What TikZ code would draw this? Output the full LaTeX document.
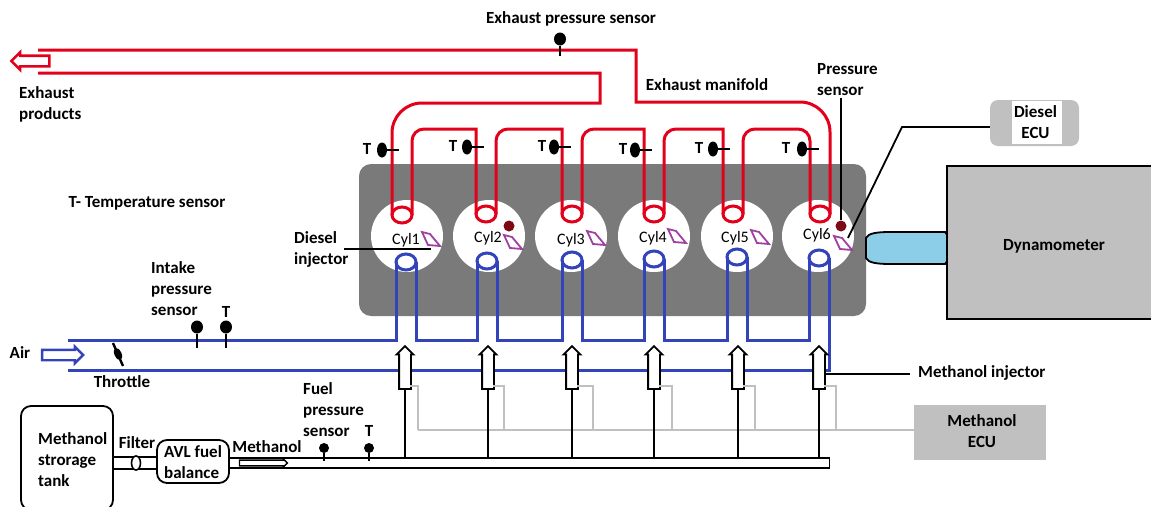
\documentclass[tikz,border=0pt]{standalone}
\usepackage{fontspec}
\setmainfont{Carlito}
\usetikzlibrary{shapes.geometric, shapes.arrows}
\definecolor{exhred}{HTML}{E2001A}
\definecolor{intblue}{HTML}{3344BB}
\definecolor{blockgray}{HTML}{7A7A7A}
\definecolor{ecugray}{HTML}{C0C0C0}
\definecolor{dotred}{HTML}{7B0A14}
\definecolor{injpurple}{HTML}{A040A0}
\definecolor{couplerblue}{HTML}{8CCDE8}
\tikzset{
    lab/.style={font=\fontsize{17}{21}\selectfont\bfseries, align=left, inner sep=0pt},
    cyllab/.style={font=\fontsize{16}{18}\selectfont, inner sep=0pt},
    wire/.style={line width=1.8pt},
    stem/.style={line width=2.4pt},
    exh/.style={line width=3pt, exhred},
    intk/.style={line width=3pt, intblue},
    ecuwire/.style={line width=1.8pt, ecugray},
    port/.style={ellipse, draw, fill=white, line width=3pt, minimum width=20pt, minimum height=16pt, inner sep=0pt, outer sep=0pt},
    sensor/.style={ellipse, fill=black, minimum width=12pt, minimum height=13pt, inner sep=0pt},
    tsensor/.style={ellipse, fill=black, minimum width=10pt, minimum height=15pt, inner sep=0pt},
    cylbox/.style={circle, fill=white, minimum size=72pt, inner sep=0pt},
    prdot/.style={circle, fill=dotred, minimum size=11pt, inner sep=0pt},
    injarrow/.style={single arrow, draw, fill=white, line width=1.8pt, shape border rotate=90, minimum height=43pt, single arrow head extend=2.5pt, inner sep=5pt, outer sep=0pt},
    roundbox/.style={draw, line width=1.8pt, rounded corners=10pt, fill=white, inner sep=0pt}
}
\begin{document}
\begin{tikzpicture}[x=1pt, y=-1pt]
    \useasboundingbox (0,0) rectangle (1151,506);

    % Engine block and cylinders
    \node[fill=blockgray, rounded corners=12pt, minimum width=507pt, minimum height=152pt, inner sep=0pt] (block) at (612.5,240) {};
    \foreach \i/\x in {1/407, 2/489, 3/571, 4/654, 5/737, 6/818}
        \node[cylbox] (cyl\i) at (\x,236) {};

    % Exhaust side
    \coordinate (exhtop) at (0,129);
    \coordinate (manupper) at (38,50);
    \coordinate (manlower) at (38,73);
    \foreach \i/\x/\y in {1/402/215, 2/486/214, 3/572/214, 4/654/214, 5/733/214, 6/820/214}
        \node[port, draw=exhred] (ex\i) at (\x,\y) {};
    \foreach \a/\b in {1/2, 2/3, 3/4, 4/5}
        \draw[exh, rounded corners=12pt] (ex\a.east) -- (ex\a.east |- exhtop) [sharp corners] -- (ex\b.west |- exhtop) -- (ex\b.west);
    \draw[exh, rounded corners=12pt] (ex5.east) -- (ex5.east |- exhtop) -- (ex6.west |- exhtop) -- (ex6.west);
    \draw[exh, rounded corners=30pt] (ex1.west) -- (ex1.west |- 0,103) [sharp corners] -- (600,103) -- (600,73) -- (manlower);
    \draw[exh, rounded corners=30pt] (ex6.east) -- (ex6.east |- 0,102) [sharp corners] -- (636,102) -- (636,50) -- (manupper);
    \node[single arrow, draw=exhred, fill=white, line width=2.6pt, shape border rotate=180, minimum height=38pt, single arrow head extend=3.5pt, inner sep=4pt] (exharrow) at (33,61) {};
    \node[lab, anchor=west] (exhproducts) at (19,104) {Exhaust\\products};

    % Intake side
    \coordinate (airupper) at (68,340);
    \coordinate (airlower) at (68,370);
    \foreach \i/\x/\y in {1/406/262, 2/487/261, 3/572/260, 4/654/259, 5/737/257, 6/819/258}
        \node[port, draw=intblue] (in\i) at (\x,\y) {};
    \foreach \a/\b in {1/2, 2/3, 3/4, 4/5, 5/6}
        \draw[intk] (in\a.east) -- (in\a.east |- airupper) -- (in\b.west |- airupper) -- (in\b.west);
    \draw[intk] (airupper) -- (in1.west |- airupper) -- (in1.west);
    \draw[intk] (airlower) -- (in6.east |- airlower) -- (in6.east);
    \node[lab] (airlab) at (20,353) {Air};
    \node[single arrow, draw=intblue, fill=white, line width=2.4pt, minimum height=41pt, single arrow head extend=3pt, inner sep=4pt] (airarrow) at (60,355) {};

    % Cylinder labels, injectors and pressure dots
    \foreach \i/\x/\y in {1/406/240, 2/488/238, 3/571/240, 4/653/238, 5/735/238, 6/817/235}
        \node[cyllab] (cyl\i lab) at (\x,\y) {Cyl\i};
    \foreach \x/\y in {431/239, 513/242, 596/238, 677/236, 760/237, 843/243}
        \draw[injpurple, line width=1.8pt, shift={(\x,\y)}] (-9,-7) -- (-1,-5) -- (9,7) -- (-3,6) -- cycle;

    % Temperature sensors on the runners
    \foreach \i/\x/\y/\tx in {1/382/150/367, 2/467/147/453, 3/554/147/542, 4/635/150/623, 5/713/149/699, 6/802/149/786} {
        \node[tsensor] (ts\i) at (\x,\y) {};
        \coordinate (tsend\i) at (\x+17,\y);
        \draw[stem] (ts\i) -- (tsend\i);
        \node[lab] (tslab\i) at (\tx,\y-1) {T};
    }

    % Sensors, manifold and labels at the top
    \node[sensor] (exhpsens) at (560,39) {};
    \coordinate (exhpend) at (560,56);
    \draw[stem] (exhpsens) -- (exhpend);
    \node[lab] (exhplab) at (571,19) {Exhaust pressure sensor};
    \node[lab] (manlab) at (707,85) {Exhaust manifold};
    \node[lab] (tlegend) at (147,203) {T- Temperature sensor};
    \node[prdot] (prdot2) at (509,226) {};
    \node[prdot] (prdot6) at (841,226) {};
    \node[lab, anchor=west] (prlab) at (817,80) {Pressure\\sensor};
    \coordinate (prtop) at (841,98);
    \draw[wire] (prtop) -- (prdot6);

    % Diesel injector callout
    \node[lab, anchor=west] (dilab) at (294,249.5) {Diesel\\injector};
    \coordinate (distart) at (344,249);
    \coordinate (diend) at (431,249);
    \draw[wire] (distart) -- (diend);

    % Diesel ECU
    \node[fill=ecugray, rounded corners=8pt, minimum width=89pt, minimum height=46pt, inner sep=0pt] (decu) at (1034.5,123) {};
    \node[fill=white, minimum width=50pt, minimum height=43pt, inner sep=0pt] (decuin) at (1037,122.5) {};
    \node[lab, align=center] (decutxt) at (1035.5,122.5) {Diesel\\ECU};
    \coordinate (decubend) at (902,127);
    \coordinate (decuinj) at (848,238);
    \draw[wire] (decu.west |- decubend) -- (decubend) -- (decuinj);

    % Dynamometer
    \draw[fill=couplerblue, line width=1.8pt] (866,238) .. controls (868,233) and (878,232) .. (890,232) -- (945,232) -- (948,236) -- (948,260) -- (945,264) -- (890,264) .. controls (878,264) and (868,263) .. (866,258) -- cycle;
    \draw[fill=ecugray, line width=2pt] (947,166) rectangle (1153,319);
    \node[lab] (dynolab) at (1054,246) {Dynamometer};

    % Air path parts
    \node[lab, anchor=west] (intlab) at (151,289) {Intake\\pressure\\sensor};
    \foreach \i/\x in {1/197, 2/226} {
        \node[sensor] (ips\i) at (\x,327) {};
        \coordinate (ipsend\i) at (\x,348);
        \draw[stem] (ips\i) -- (ipsend\i);
    }
    \node[lab] (iptlab) at (226,312) {T};
    \coordinate (thra) at (113,343);
    \coordinate (thrb) at (123,366);
    \draw[stem] (thra) -- (thrb);
    \node[ellipse, fill=black, minimum width=13pt, minimum height=7pt, inner sep=0pt, rotate=-65] (thrblob) at (118,354) {};
    \node[lab] (thrlab) at (122,382) {Throttle};

    % Fuel line
    \node[draw, line width=1.6pt, minimum width=601pt, minimum height=10pt, inner sep=0pt, fill=white] (rail) at (529,463) {};
    \node[roundbox, minimum width=92pt, minimum height=104pt] (tank) at (67,458) {};
    \node[lab, anchor=west] (tanklab) at (38,459.5) {Methanol\\strorage\\tank};
    \node[roundbox, minimum width=72pt, minimum height=43pt] (avl) at (193,461.5) {};
    \node[lab, anchor=west] (avllab) at (164,462.5) {AVL fuel\\balance};
    \draw[wire] (tank.east |- 0,457) -- (avl.west |- 0,457);
    \draw[wire] (tank.east |- 0,469) -- (avl.west |- 0,469);
    \node[ellipse, draw, fill=white, line width=1.6pt, minimum width=9pt, minimum height=14pt, inner sep=0pt] (filter) at (136,463) {};
    \node[lab] (filtlab) at (137,443) {Filter};
    \node[lab] (methlab) at (267,447) {Methanol};
    \node[single arrow, draw, fill=white, line width=1.4pt, minimum height=48pt, single arrow head extend=1.2pt, inner sep=2.2pt] (metharrow) at (262,463) {};
    \node[lab, anchor=west] (fuellab) at (303,410) {Fuel\\pressure\\sensor};
    \foreach \i/\x in {1/324, 2/369} {
        \node[sensor, minimum width=10pt, minimum height=10pt] (fs\i) at (\x,448) {};
        \coordinate (fsend\i) at (\x,461);
        \draw[wire] (fs\i) -- (fsend\i);
    }
    \node[lab] (ftlab) at (369,431) {T};

    % Methanol injectors and ECU
    \node[fill=ecugray, minimum width=132pt, minimum height=55pt, inner sep=0pt] (mecu) at (980,432.5) {};
    \node[lab, align=center] (mecutxt) at (982,431) {Methanol\\ECU};
    \coordinate (ecubus) at (418,430);
    \draw[ecuwire] (mecu.west |- ecubus) -- (ecubus);
    \foreach \i/\x/\bx in {1/405/418, 2/488/504, 3/572/593, 4/654/672, 5/738/755, 6/819/836} {
        \node[injarrow] (inj\i) at (\x,370.5) {};
        \draw[ecuwire] (\bx,430) -- (\bx,386) -- (\x+5,386);
        \draw[wire] (inj\i.tail) -- (inj\i.tail |- rail.north);
    }
    \coordinate (mijend) at (910,374);
    \draw[wire] (inj6.east |- mijend) -- (mijend);
    \node[lab, anchor=west] (mijlab) at (918,373) {Methanol injector};
\end{tikzpicture}
\end{document}
